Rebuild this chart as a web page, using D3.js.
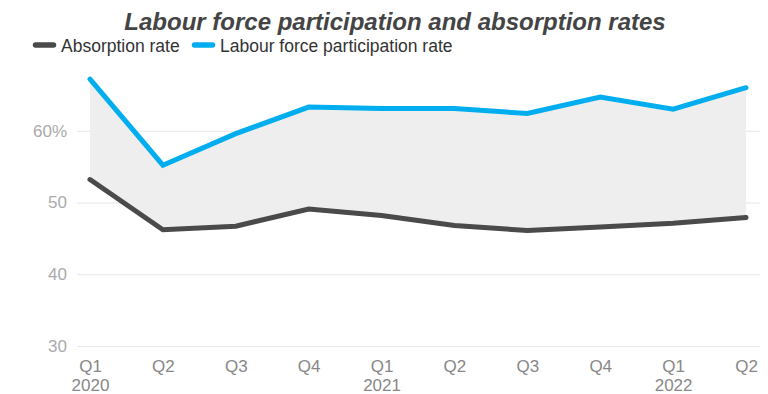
<!DOCTYPE html>
<html><head><meta charset="utf-8">
<script src="https://cdn.jsdelivr.net/npm/d3@7"></script>
<style>body{margin:0;background:#fff;font-family:"Liberation Sans",Arial,sans-serif;}</style>
</head><body><svg id="c" width="768" height="394"></svg>
<script>
const quarters = ["Q1","Q2","Q3","Q4","Q1","Q2","Q3","Q4","Q1","Q2"];
const years = ["2020","","","","2021","","","","2022",""];
const absorption = [53.2, 46.2, 46.7, 49.1, 48.2, 46.8, 46.1, 46.6, 47.1, 47.9];
const participation = [67.2, 55.2, 59.6, 63.3, 63.1, 63.1, 62.4, 64.7, 63.0, 66.0];
const yTicks = [30, 40, 50, 60];
const seriesNames = ["Absorption rate", "Labour force participation rate"];
const colors = ["#4a4a4a", "#00aeef"];
const FONT = "Liberation Sans, Arial, sans-serif";

const svg = d3.select("#c");
const idx = d3.range(quarters.length);
const x = d3.scalePoint().domain(idx).range([90, 746]);
const y = d3.scaleLinear().domain([30, 70]).range([346, 59]);

// title
svg.append("text").attr("x", 395).attr("y", 30).attr("text-anchor", "middle")
  .attr("font-size", 24).attr("font-weight", "bold").attr("font-style", "italic")
  .attr("fill", "#444").text("Labour force participation and absorption rates");

// legend
const leg = [{x: 33, tx: 61}, {x: 192, tx: 220}];
seriesNames.forEach((n, i) => {
  svg.append("line").attr("x1", leg[i].x + 2.5).attr("x2", leg[i].x + 20.5)
    .attr("y1", 45).attr("y2", 45).attr("stroke", colors[i])
    .attr("stroke-width", 5.5).attr("stroke-linecap", "round");
  svg.append("text").attr("x", leg[i].tx).attr("y", 52).attr("font-size", 17.5)
    .attr("fill", "#333").text(n);
});

// grid + y axis
const yAxis = d3.axisLeft(y).tickValues(yTicks)
  .tickSize(-(760 - 77)).tickFormat(d => d === 60 ? d + "%" : d);
const ga = svg.append("g").attr("transform", "translate(77,0)").call(yAxis);
ga.select(".domain").remove();
ga.selectAll(".tick line").attr("stroke", "#e6e6e6").attr("stroke-width", 1.2);
ga.selectAll(".tick text").attr("font-size", 17).attr("fill", "#aaa")
  .attr("font-family", FONT).attr("x", -10);

// area between
const area = d3.area().x(i => x(i)).y0(i => y(absorption[i])).y1(i => y(participation[i]));
svg.append("path").datum(idx).attr("d", area).attr("fill", "#eeeeee");

// lines
[absorption, participation].forEach((s, k) => {
  const line = d3.line().x(i => x(i)).y(i => y(s[i]));
  svg.append("path").datum(idx).attr("d", line).attr("fill", "none")
    .attr("stroke", colors[k]).attr("stroke-width", 5)
    .attr("stroke-linejoin", "miter").attr("stroke-linecap", "round");
});

// x axis labels
const xAxis = d3.axisBottom(x).tickSize(0).tickFormat(i => quarters[i]);
const gx = svg.append("g").attr("transform", "translate(0,346)").call(xAxis);
gx.select(".domain").remove();
gx.selectAll(".tick text").attr("font-size", 17).attr("fill", "#888")
  .attr("dy", null).attr("y", 26)
  .attr("font-family", FONT)
  .each(function(i) {
    if (years[i]) {
      d3.select(this.parentNode).append("text").attr("y", 45).attr("text-anchor", "middle")
        .attr("font-size", 17).attr("fill", "#888")
        .attr("font-family", FONT).text(years[i]);
    }
  });
</script></body></html>
